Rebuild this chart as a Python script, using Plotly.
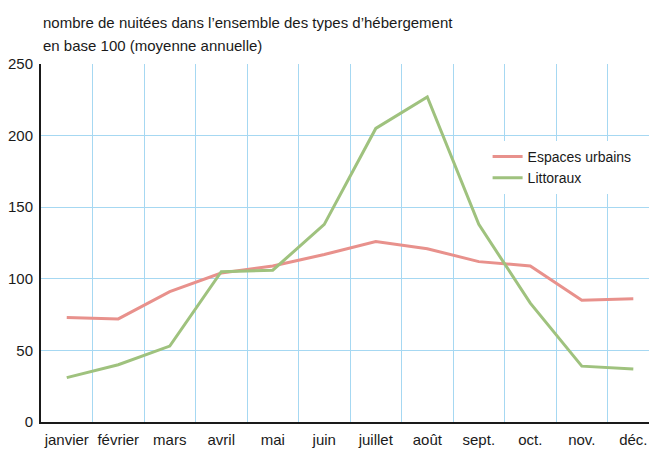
import plotly.graph_objects as go

mois = ["janvier", "février", "mars", "avril", "mai", "juin", "juillet",
        "août", "sept.", "oct.", "nov.", "déc."]
espaces_urbains = [73, 72, 91, 104, 109, 117, 126, 121, 112, 109, 85, 86]
littoraux = [31, 40, 53, 105, 106, 138, 205, 227, 138, 83, 39, 37]
y_ticks = [0, 50, 100, 150, 200, 250]

FONT = "Liberation Sans, Arial, sans-serif"
GRID = "#a6d8f2"

fig = go.Figure()
fig.add_trace(go.Scatter(x=mois, y=espaces_urbains, mode="lines",
                         name="Espaces urbains",
                         line=dict(color="#e8918c", width=3)))
fig.add_trace(go.Scatter(x=mois, y=littoraux, mode="lines",
                         name="Littoraux",
                         line=dict(color="#9fc27e", width=3)))

fig.update_layout(
    width=649, height=441,
    margin=dict(l=33, r=0, t=56, b=27, autoexpand=False),
    paper_bgcolor="white", plot_bgcolor="white",
    font=dict(family=FONT, size=15, color="#1a1a1a"),
    showlegend=True,
    legend=dict(x=0.725, y=0.785, xanchor="left", yanchor="top",
                bgcolor="white", font=dict(size=14, family=FONT),
                tracegroupgap=0, itemwidth=30),
    annotations=[
        dict(text="nombre de nuitées dans l’ensemble des types d’hébergement",
             xref="paper", yref="paper", x=0, y=1, yshift=42,
             xanchor="left", yanchor="middle", showarrow=False,
             font=dict(size=15, family=FONT, color="#1a1a1a")),
        dict(text="en base 100 (moyenne annuelle)",
             xref="paper", yref="paper", x=0, y=1, yshift=19,
             xanchor="left", yanchor="middle", showarrow=False,
             font=dict(size=15, family=FONT, color="#1a1a1a")),
    ],
)
fig.update_xaxes(
    type="category", range=[-0.5, 11.46], tickson="boundaries",
    showgrid=True, gridcolor=GRID, gridwidth=1,
    showline=True, linecolor="#1a1a1a", linewidth=2,
    ticks="", ticklen=0, zeroline=False, tickangle=0, automargin=False,
    ticklabelstandoff=3,
    tickfont=dict(size=15, family=FONT),
)
fig.update_yaxes(
    range=[0, 250], tickvals=y_ticks,
    showgrid=True, gridcolor=GRID, gridwidth=1,
    showline=True, linecolor="#1a1a1a", linewidth=2,
    ticks="", zeroline=False, automargin=False,
    ticklabelstandoff=3,
    tickfont=dict(size=15, family=FONT),
)

fig.write_html("out.html")
